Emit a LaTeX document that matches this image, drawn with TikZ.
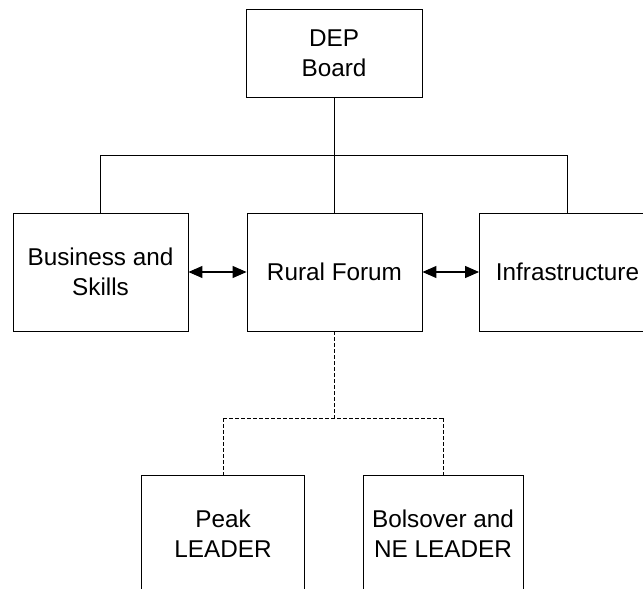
\documentclass[tikz,border=0pt]{standalone}
\usepackage{fontspec}
\setmainfont{Liberation Sans}
\usetikzlibrary{arrows.meta}
\begin{document}
\begin{tikzpicture}[x=1pt,y=-1pt,
  box/.style={draw=black, line width=0.9pt, fill=white, inner sep=0pt, align=center,
    minimum width=175pt, minimum height=118pt, font=\fontsize{24.3}{30}\selectfont},
  lowbox/.style={box, minimum width=163pt, minimum height=117pt},
  topbox/.style={box, minimum width=176pt, minimum height=88pt},
  link/.style={draw=black, line width=0.9pt},
  dlink/.style={link, dash pattern=on 4pt off 2pt},
  biarrow/.style={link, line width=1.1pt, {Triangle[length=14pt,width=12pt]}-{Triangle[length=14pt,width=12pt]}}]
\useasboundingbox (0,0) rectangle (643,589);
\node[topbox] (dep) at (334,53) {DEP\\Board};
\node[box] (bus) at (100.5,272) {Business and\\Skills};
\node[box] (rur) at (334.5,272) {Rural Forum};
\node[box, minimum width=176pt] (inf) at (567.5,272) {Infrastructure};
\node[lowbox] (peak) at (223,534) {Peak\\LEADER};
\node[lowbox, minimum width=160pt] (bol) at (443,534) {Bolsover and\\NE LEADER};
\coordinate (jt) at (334,155);
\coordinate (jl) at (100,155);
\coordinate (jr) at (567,155);
\coordinate (jd) at (334,418);
\coordinate (jdl) at (223,418);
\coordinate (jdr) at (443,418);
\draw[link] (dep.south) -- (jt);
\draw[link] (jl) -- (jr);
\draw[link] (jl) -- (bus.north -| jl);
\draw[link] (jt) -- (rur.north -| jt);
\draw[link] (jr) -- (inf.north -| jr);
\draw[dlink] (rur.south -| jd) -- (jd);
\draw[dlink] (jdl) -- (jdr);
\draw[dlink] (jdl) -- (peak.north);
\draw[dlink] (jdr) -- (bol.north);
\draw[biarrow] (bus.east) -- (rur.west);
\draw[biarrow] (rur.east) -- (inf.west);
\end{tikzpicture}
\end{document}
